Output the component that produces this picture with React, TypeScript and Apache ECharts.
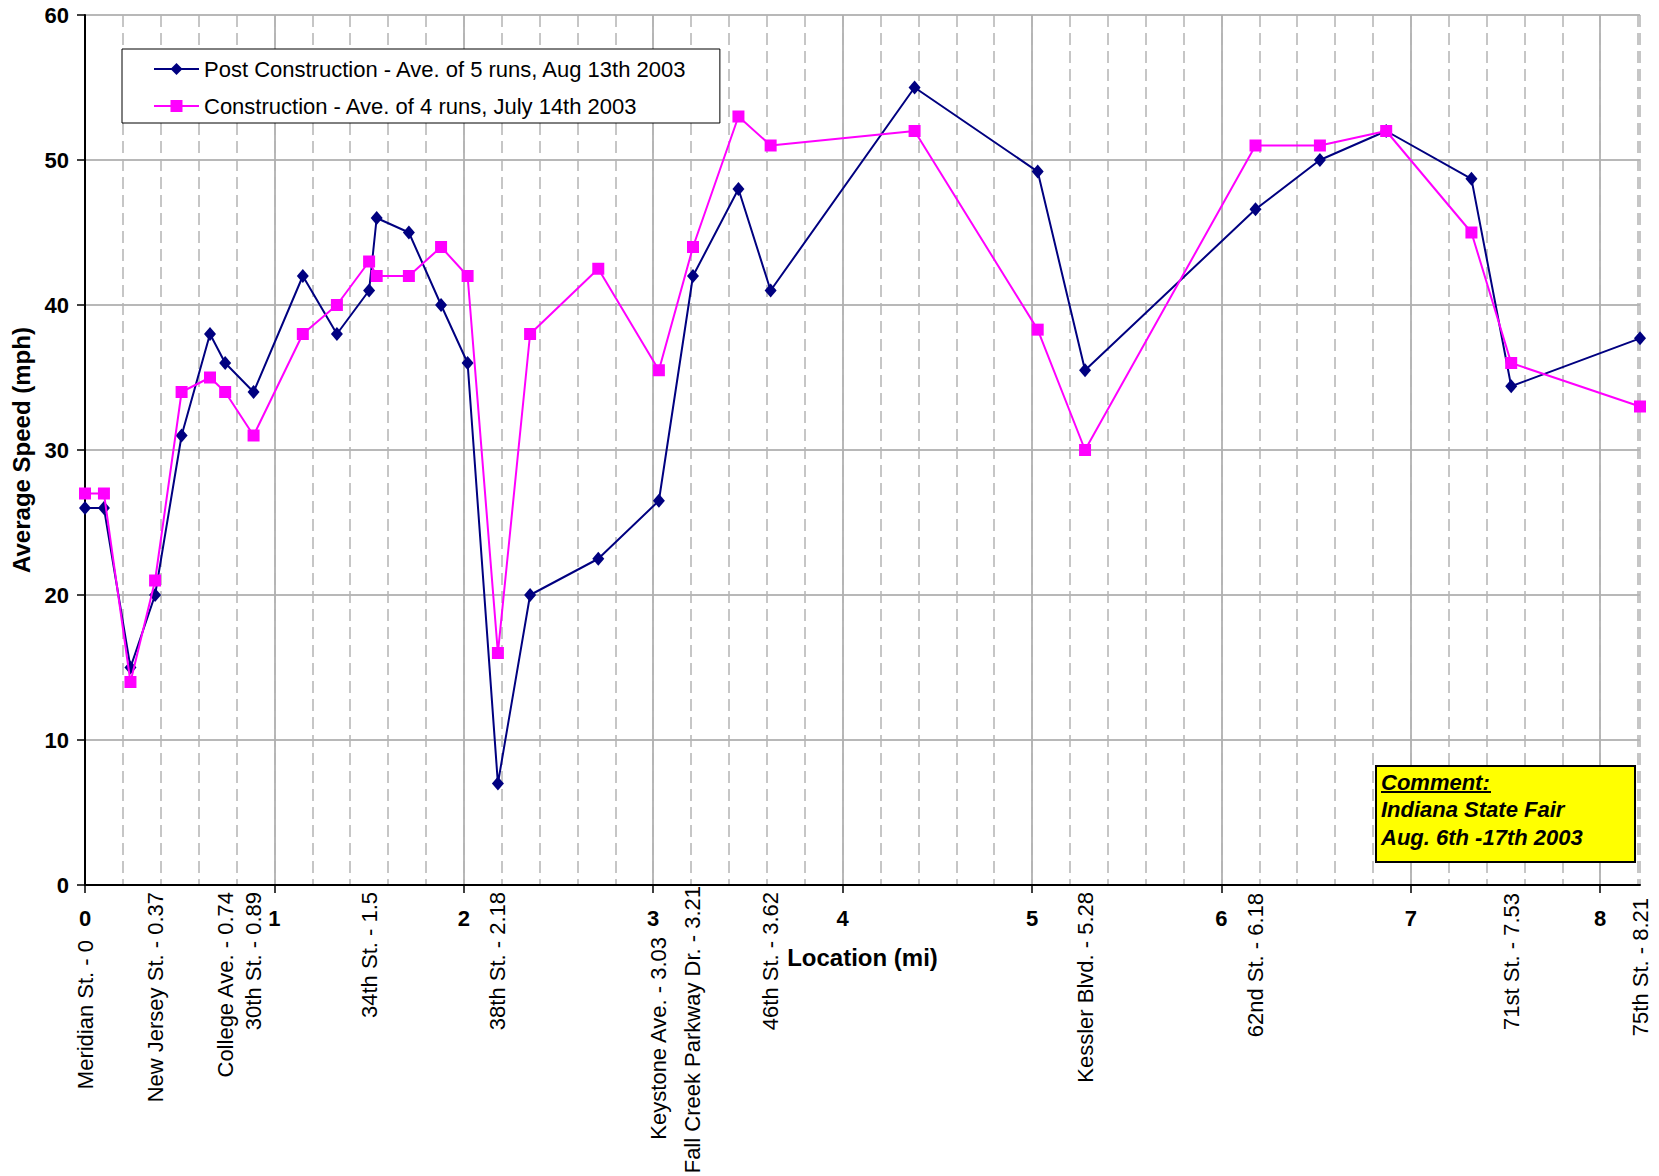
import React, { useEffect, useRef } from "react";
import * as echarts from "echarts";

// ---- Data ----
const miles = [0, 0.1, 0.24, 0.37, 0.51, 0.66, 0.74, 0.89, 1.15, 1.33, 1.5, 1.54, 1.71, 1.88, 2.02, 2.18, 2.35, 2.71, 3.03, 3.21, 3.45, 3.62, 4.38, 5.03, 5.28, 6.18, 6.52, 6.87, 7.32, 7.53, 8.21];
const postConstruction = [26, 26, 15, 20, 31, 38, 36, 34, 42, 38, 41, 46, 45, 40, 36, 7, 20, 22.5, 26.5, 42, 48, 41, 55, 49.2, 35.5, 46.6, 50, 52, 48.7, 34.4, 37.7];
const construction = [27, 27, 14, 21, 34, 35, 34, 31, 38, 40, 43, 42, 42, 44, 42, 16, 38, 42.5, 35.5, 44, 53, 51, 52, 38.3, 30, 51, 51, 52, 45, 36, 33];

const streetNames = ["Meridian St. - 0", "New Jersey St. - 0.37", "College Ave. - 0.74", "30th St. - 0.89", "34th St. - 1.5", "38th St. - 2.18", "Keystone Ave. - 3.03", "Fall Creek Parkway Dr. - 3.21", "46th St. - 3.62", "Kessler Blvd. - 5.28", "62nd St. - 6.18", "71st St. - 7.53", "75th St. - 8.21"];
const streetMiles = [0, 0.37, 0.74, 0.89, 1.5, 2.18, 3.03, 3.21, 3.62, 5.28, 6.18, 7.53, 8.21];

const xTickValues = [0, 1, 2, 3, 4, 5, 6, 7, 8];

const seriesNames = [
  "Post Construction - Ave. of 5 runs, Aug 13th 2003",
  "Construction - Ave. of 4 runs, July 14th 2003",
];
const commentLines = ["Comment:", "Indiana State Fair", "Aug. 6th -17th 2003"];

// ---- Styling (positions) ----
const labelDrop = [55, 7, 7, 7, 7, 7, 52, 1, 7, 7, 8, 8, 13];
const FONT = 'Arial, "Liberation Sans", Helvetica, sans-serif';

export default function App() {
  const ref = useRef<HTMLDivElement>(null);

  useEffect(() => {
    if (!ref.current) return;
    const chart = echarts.init(ref.current, null, { renderer: "svg" });

    const option: any = {
      animation: false,
      backgroundColor: "#ffffff",
      textStyle: { fontFamily: FONT },
      grid: { left: 85, right: 19, top: 15, bottom: 291, containLabel: false },
      legend: {
        data: seriesNames,
        orient: "vertical",
        left: 122,
        top: 49,
        padding: [8, 32, 5, 31],
        itemWidth: 45,
        itemHeight: 15,
        itemGap: 13,
        backgroundColor: "#ffffff",
        borderColor: "#000000",
        borderWidth: 1,
        selectedMode: false,
        textStyle: { fontSize: 22, color: "#000", fontFamily: FONT, lineHeight: 24 },
      },
      xAxis: [
        {
          type: "value",
          min: 0,
          max: 8.21,
          interval: 1,
          position: "bottom",
          axisLine: { show: true, onZero: false, lineStyle: { color: "#000", width: 2 } },
          axisTick: { show: true, length: 8, customValues: xTickValues, lineStyle: { color: "#000", width: 1.5 } },
          axisLabel: {
            customValues: xTickValues,
            margin: 22,
            fontSize: 22,
            fontWeight: "bold",
            color: "#000",
            fontFamily: FONT,
          },
          splitLine: { show: true, lineStyle: { color: "#a0a0a0", width: 1.5 } },
          name: "Location (mi)",
          nameLocation: "middle",
          nameGap: 60,
          nameTextStyle: { fontSize: 24, fontWeight: "bold", color: "#000", fontFamily: FONT },
        },
        {
          type: "value",
          min: 0,
          max: 8.21,
          interval: 0.2,
          axisLine: { show: false },
          axisTick: { show: false },
          axisLabel: { show: false },
          splitLine: { show: true, lineStyle: { color: "#b4b4b4", width: 1.5, type: [12, 6] } },
        },
      ],
      yAxis: {
        type: "value",
        min: 0,
        max: 60,
        interval: 10,
        axisLine: { show: true, lineStyle: { color: "#000", width: 2 } },
        axisTick: { show: true, length: 8, lineStyle: { color: "#000", width: 1.5 } },
        axisLabel: { margin: 16, fontSize: 22, fontWeight: "bold", color: "#000", fontFamily: FONT },
        splitLine: { show: true, lineStyle: { color: "#a0a0a0", width: 1.5 } },
        name: "Average Speed (mph)",
        nameLocation: "middle",
        nameRotate: 90,
        nameGap: 48,
        nameTextStyle: { fontSize: 24, fontWeight: "bold", color: "#000", fontFamily: FONT },
      },
      series: [
        {
          name: seriesNames[0],
          type: "line",
          xAxisIndex: 0,
          clip: false,
          data: miles.map((m, i) => [m, postConstruction[i]]),
          symbol: "diamond",
          symbolSize: [12, 14],
          itemStyle: { color: "#000080" },
          lineStyle: { color: "#000080", width: 2 },
          z: 3,
        },
        {
          name: seriesNames[1],
          type: "line",
          xAxisIndex: 0,
          clip: false,
          data: miles.map((m, i) => [m, construction[i]]),
          symbol: "rect",
          symbolSize: 12,
          itemStyle: { color: "#ff00ff" },
          lineStyle: { color: "#ff00ff", width: 2 },
          z: 4,
        },
        {
          type: "custom",
          xAxisIndex: 0,
          silent: true,
          clip: false,
          z: 5,
          data: streetMiles.map((m) => [m, 0]),
          renderItem: (params: any, api: any) => {
            const pt = api.coord([api.value(0), 0]);
            const i = params.dataIndex;
            return {
              type: "text",
              x: pt[0],
              y: pt[1] + labelDrop[i],
              rotation: Math.PI / 2,
              style: {
                text: streetNames[i],
                fontSize: 22,
                fontFamily: FONT,
                fill: "#000",
                align: "right",
                verticalAlign: "middle",
              },
            };
          },
        },
      ],
      graphic: [
        {
          type: "rect",
          x: 1376,
          y: 766,
          shape: { x: 0, y: 0, width: 259, height: 96 },
          style: { fill: "#ffff00", stroke: "#000", lineWidth: 2 },
          z: 20,
        },
        ...commentLines.map((t, i) => ({
          type: "text",
          x: 1381,
          y: 782 + i * 27.5,
          z: 21,
          style: {
            text: t,
            fontSize: 22,
            fontWeight: "bold",
            fontStyle: "italic",
            fontFamily: FONT,
            fill: "#000",
            align: "left",
            verticalAlign: "middle",
          },
        })),
        {
          type: "line",
          z: 21,
          shape: { x1: 1381, y1: 792, x2: 1491, y2: 792 },
          style: { stroke: "#000", lineWidth: 2 },
        },
      ],
    };

    chart.setOption(option);
    return () => chart.dispose();
  }, []);

  return (
    <div
      ref={ref}
      style={{ position: "absolute", left: 0, top: 0, width: 1659, height: 1176, background: "#fff" }}
    />
  );
}
